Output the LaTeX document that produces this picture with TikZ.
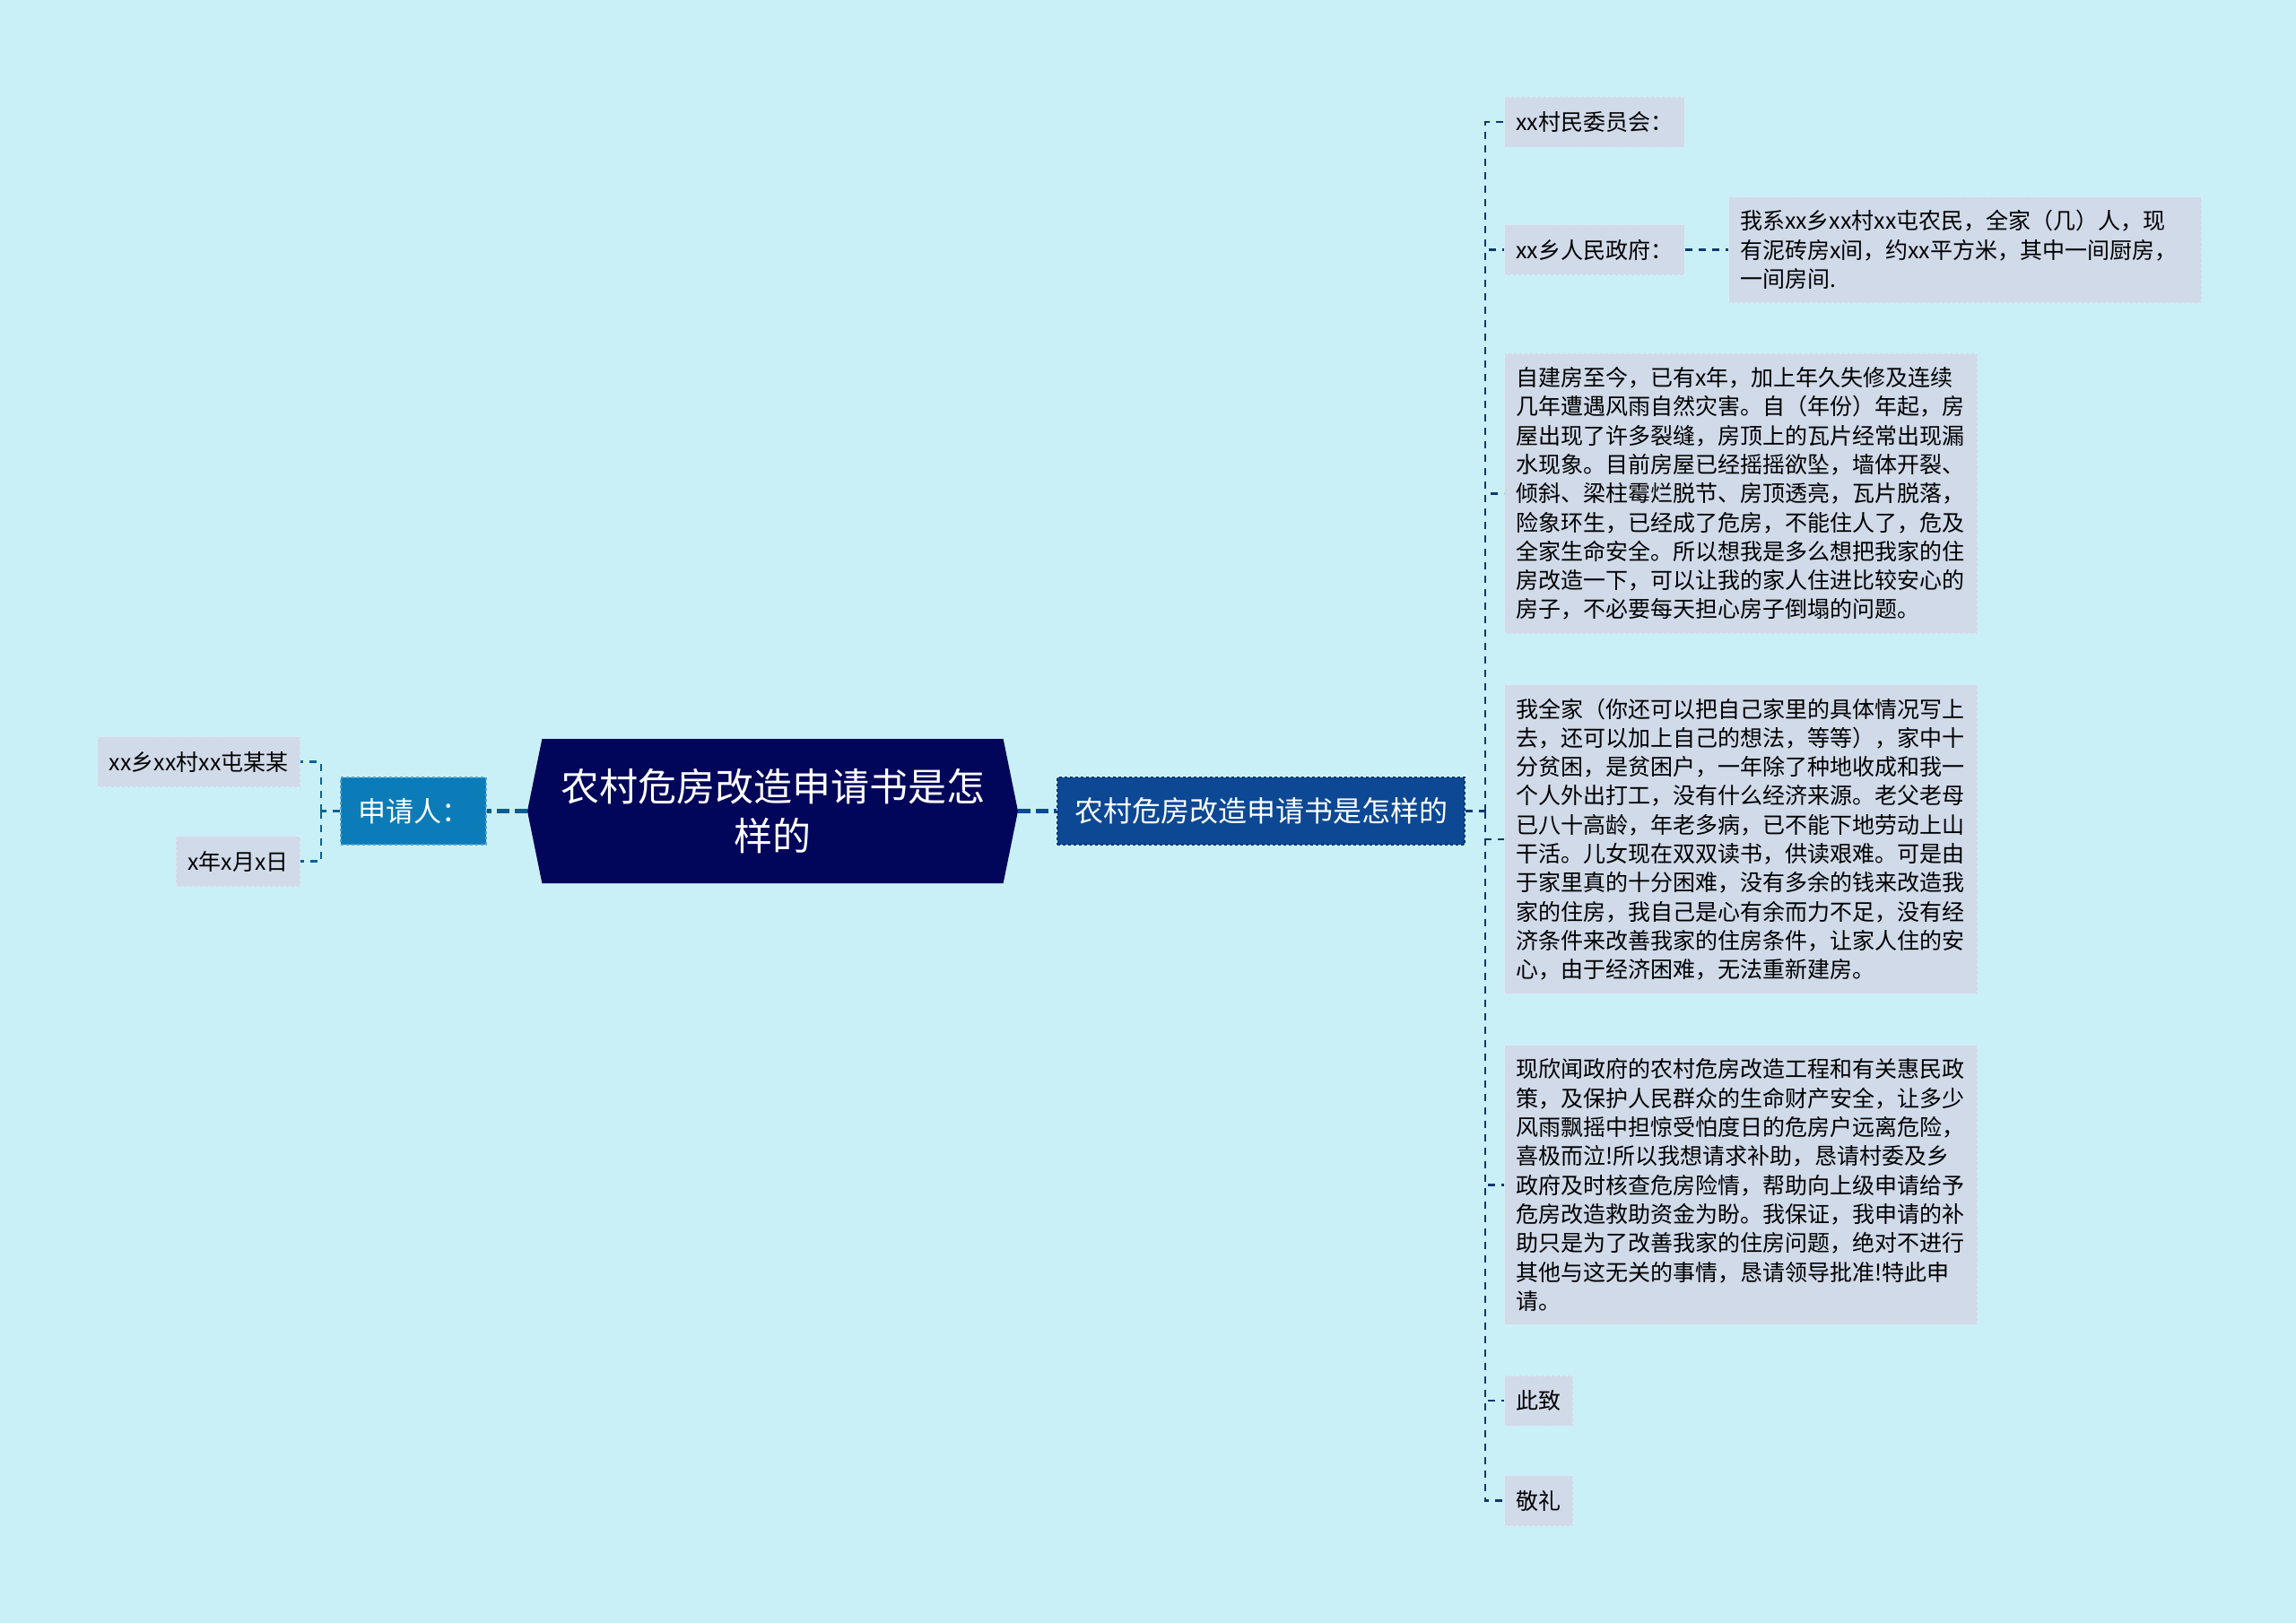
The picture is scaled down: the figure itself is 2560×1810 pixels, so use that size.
\documentclass[tikz,border=0pt]{standalone}
\usepackage{fontspec}
\setmainfont{Noto Sans CJK SC}
\usetikzlibrary{shapes.symbols}

\definecolor{bgcyan}{RGB}{201,240,247}
\definecolor{rootnavy}{RGB}{2,6,90}
\definecolor{subblue}{RGB}{12,72,148}
\definecolor{appblue}{RGB}{12,124,184}
\definecolor{leafgrey}{RGB}{208,218,233}
\definecolor{leafedge}{RGB}{224,232,243}
\definecolor{trunknavy}{RGB}{16,56,110}

\tikzset{
    leaf/.style={rectangle, fill=leafgrey, draw=leafedge, dashed, line width=1pt, inner xsep=13pt, inner ysep=0pt, minimum height=56pt, font=\fontsize{25}{32.3}\selectfont, text=black},
    para/.style={leaf, text width=502pt, inner xsep=12.5pt, inner ysep=15pt, align=left},
    link/.style={trunknavy, line width=2.2pt, dash pattern=on 8pt off 7pt},
    applink/.style={appblue!80!black, line width=2.2pt, dash pattern=on 8pt off 7pt},
    mainlink/.style={line width=4.5pt, dash pattern=on 14pt off 6pt}
}

\begin{document}
\begin{tikzpicture}[x=1pt, y=-1pt]
            \fill[bgcyan] (0,0) rectangle (2560,1810);
            \useasboundingbox (0,0) rectangle (2560,1810);
            \node[signal, signal to=east and west, signal pointer angle=157, fill=rootnavy, text=white, minimum width=547pt, minimum height=161pt, text width=480pt, align=center, inner sep=0pt, font=\fontsize{43}{55}\selectfont] (root) at (861.5,904.5) {农村危房改造申请书是怎\\样的};
            \node[fill=subblue, draw=subblue!75!black, dashed, line width=1.2pt, text=white, inner xsep=19pt, minimum height=75pt, font=\fontsize{32}{40}\selectfont] (sub) at (1406,904.5) {农村危房改造申请书是怎样的};
            \node[fill=appblue, draw=appblue!70!white, dashed, line width=1.2pt, text=white, inner xsep=19pt, minimum height=75pt, font=\fontsize{31}{40}\selectfont] (app) at (461,904.5) {申请人：};
            \begin{scope}[every node/.style={leaf}]
                \node[anchor=east] (who) at (335,849.5) {xx乡xx村xx屯某某};
                \node[anchor=east] (date) at (335,960.5) {x年x月x日};
                \node[anchor=west] (vc) at (1677,136) {xx村民委员会：};
                \node[anchor=west] (gov) at (1677,278.5) {xx乡人民政府：};
                \node[anchor=west] (cizhi) at (1677,1562) {此致};
                \node[anchor=west] (jingli) at (1677,1673.5) {敬礼};
            \end{scope}
            \node[para, anchor=west] (govtxt) at (1927,278.5) {我系xx乡xx村xx屯农民，全家（几）人，现\\
                有泥砖房x间，约xx平方米，其中一间厨房，\\
                一间房间.};
            \node[para, anchor=west] (para1) at (1677,550.5) {自建房至今，已有x年，加上年久失修及连续\\
                几年遭遇风雨自然灾害。自（年份）年起，房\\
                屋出现了许多裂缝，房顶上的瓦片经常出现漏\\
                水现象。目前房屋已经摇摇欲坠，墙体开裂、\\
                倾斜、梁柱霉烂脱节、房顶透亮，瓦片脱落，\\
                险象环生，已经成了危房，不能住人了，危及\\
                全家生命安全。所以想我是多么想把我家的住\\
                房改造一下，可以让我的家人住进比较安心的\\
                房子，不必要每天担心房子倒塌的问题。};
            \node[para, anchor=west] (para2) at (1677,936) {我全家（你还可以把自己家里的具体情况写上\\
                去，还可以加上自己的想法，等等），家中十\\
                分贫困，是贫困户，一年除了种地收成和我一\\
                个人外出打工，没有什么经济来源。老父老母\\
                已八十高龄，年老多病，已不能下地劳动上山\\
                干活。儿女现在双双读书，供读艰难。可是由\\
                于家里真的十分困难，没有多余的钱来改造我\\
                家的住房，我自己是心有余而力不足，没有经\\
                济条件来改善我家的住房条件，让家人住的安\\
                心，由于经济困难，无法重新建房。};
            \node[para, anchor=west] (para3) at (1677,1321.5) {现欣闻政府的农村危房改造工程和有关惠民政\\
                策，及保护人民群众的生命财产安全，让多少\\
                风雨飘摇中担惊受怕度日的危房户远离危险，\\
                喜极而泣!所以我想请求补助，恳请村委及乡\\
                政府及时核查危房险情，帮助向上级申请给予\\
                危房改造救助资金为盼。我保证，我申请的补\\
                助只是为了改善我家的住房问题，绝对不进行\\
                其他与这无关的事情，恳请领导批准!特此申\\
                请。};
            \coordinate (jr) at (1656,904.5);
            \coordinate (jl) at (358,904.5);
            \draw[mainlink, subblue] (root.east) -- (sub.west);
            \draw[mainlink, appblue!75!black] (root.west) -- (app.east);
            \draw[link] (sub.east) -- (jr);
            \draw[link] (jr) |- (vc.west);
            \draw[link] (jr) |- (gov.west);
            \draw[link] (jr) |- (para1.west);
            \draw[link] (jr) |- (para2.west);
            \draw[link] (jr) |- (para3.west);
            \draw[link] (jr) |- (cizhi.west);
            \draw[link] (jr) |- (jingli.west);
            \draw[link] (gov.east) -- (govtxt.west);
            \draw[applink] (app.west) -- (jl);
            \draw[applink] (jl) |- (who.east);
            \draw[applink] (jl) |- (date.east);
\end{tikzpicture}
\end{document}
